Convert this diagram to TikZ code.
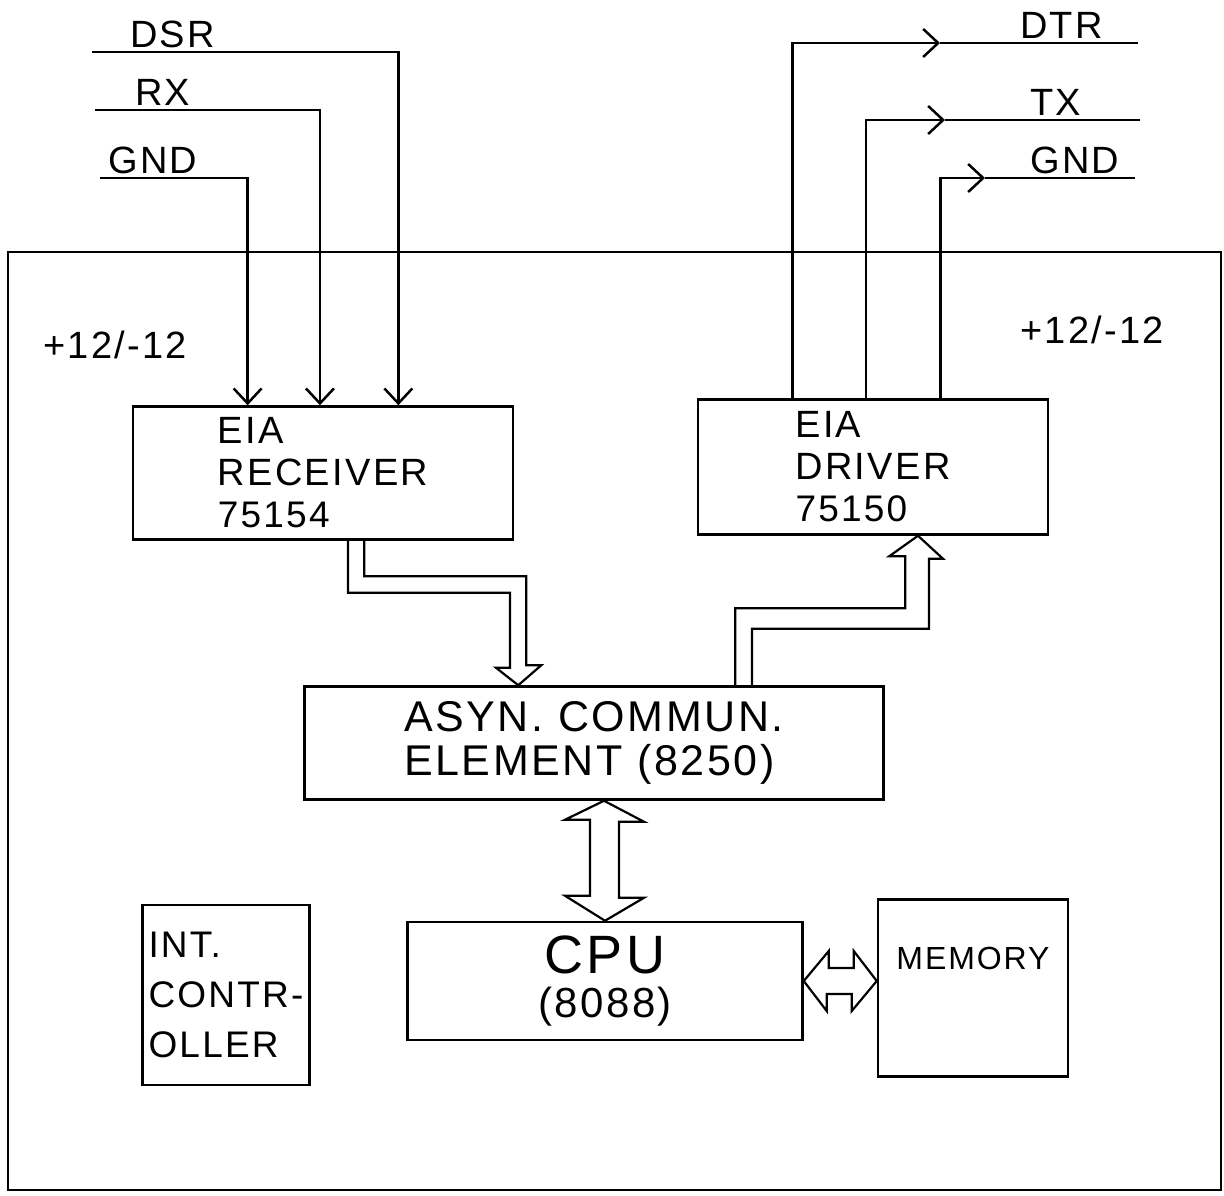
\documentclass[tikz,border=0pt]{standalone}
\usepackage{fontspec}
\newfontfamily\hand[LetterSpace=6]{Liberation Sans}
\usetikzlibrary{arrows.meta,positioning,calc}

\begin{document}
\begin{tikzpicture}[
        x=1pt, y=-1pt,
        every node/.style={font=\hand\fontsize{38}{42}\selectfont},
        box/.style={draw, line width=2.5pt, inner sep=0pt, align=left},
        wire/.style={line width=2.5pt},
        sig/.style={wire, -{Straight Barb[length=15pt, width=28pt, line width=2.5pt]}},
        bus/.style={line width=2.2pt, line join=miter},
        tag/.style={anchor=south west, inner sep=0pt}
    ]
        \useasboundingbox (0,0) rectangle (1224,1196);

        % Card outline
        \draw[wire] (8,252) rectangle (1221,1190);

        % Blocks
        \node[box, minimum width=380pt, minimum height=133pt] (recv) at (323,473)
            {EIA\\RECEIVER\\{\fontsize{37}{40}\selectfont 75154}};
        \node[box, minimum width=350pt, minimum height=135pt] (drv) at (873,467)
            {EIA\\DRIVER\\{\fontsize{37}{40}\selectfont 75150}};
        \node[box, minimum width=579pt, minimum height=113pt,
            font=\hand\fontsize{43}{44}\selectfont] (ace) at (594,743)
            {ASYN. COMMUN.\\ELEMENT (8250)};
        \node[box, align=center, minimum width=395pt, minimum height=118pt] (cpu) at (605,981)
            {{\fontsize{54}{54}\selectfont CPU}\\[2pt]{\fontsize{42}{44}\selectfont (8088)}};
        \node[box, minimum width=190pt, inner ysep=15pt, text height=55pt, text depth=92pt,
            font=\hand\fontsize{32}{36}\selectfont] (mem) at (973,988) {MEMORY};
        \node[box, minimum width=167pt, minimum height=180pt,
            font=\hand\fontsize{37}{50}\selectfont] (intc) at (226,995) {INT.\\CONTR-\\OLLER};

        % Supply labels
        \node (pwrl) at (115,345) {+12/-12};
        \node (pwrr) at (1092,330) {+12/-12};

        % Incoming lines
        \coordinate (dsrend) at (92,52);
        \coordinate (rxend) at (95,110);
        \coordinate (gndlend) at (100,178);
        \node[tag] (dsr) at (130,48) {DSR};
        \node[tag] (rx) at (135,106) {RX};
        \node[tag] (gndl) at (108,174) {GND};
        \draw[sig] (dsrend) -| ($(recv.north west)!0.697!(recv.north east)$);
        \draw[sig] (rxend) -| ($(recv.north west)!0.492!(recv.north east)$);
        \draw[sig] (gndlend) -| ($(recv.north west)!0.303!(recv.north east)$);

        % Outgoing lines
        \coordinate (dtrmark) at (940,43);
        \coordinate (txmark) at (945,120);
        \coordinate (gndrmark) at (985,178);
        \coordinate (dtrend) at (1138,43);
        \coordinate (txend) at (1140,120);
        \coordinate (gndrend) at (1135,178);
        \node[tag] (dtr) at (1020,39) {DTR};
        \node[tag] (tx) at (1030,116) {TX};
        \node[tag] (gndr) at (1030,174) {GND};
        \draw[sig] ($(drv.south west)!0.271!(drv.south east) + (0,-135)$) |- (dtrmark);
        \draw[wire] (dtrmark) -- (dtrend);
        \draw[sig] ($(drv.south west)!0.48!(drv.south east) + (0,-135)$) |- (txmark);
        \draw[wire] (txmark) -- (txend);
        \draw[sig] ($(drv.south west)!0.691!(drv.south east) + (0,-135)$) |- (gndrmark);
        \draw[wire] (gndrmark) -- (gndrend);

        % Buses
        \draw[bus] ($(recv.south)+(25,0)$) -- ++(0,52) -- ++(162,0) -- ++(0,75) -- ++(-14,0)
            -- ($(ace.north west)+(215,0)$) -- ++(23,-20) -- ++(-15,0) -- ++(0,-89)
            -- ++(-162,0) -- ++(0,-38);
        \draw[bus] ($(ace.north west)+(432,0)$) -- ++(0,-77) -- ++(170,0) -- ++(0,-52) -- ++(-16,0)
            -- ($(drv.south)+(45,0)$) -- ++(25,23) -- ++(-14,0) -- ++(0,70)
            -- ++(-177,0) -- ++(0,59);
        \draw[bus] ($(ace.south)+(10,0)$) -- ++(40,21) -- ++(-25,0) -- ++(0,76) -- ++(25,0)
            -- (cpu.north) -- ++(-40,-25) -- ++(25,0) -- ++(0,-76) -- ++(-25,0) -- cycle;
        \draw[bus] (cpu.east) -- ++(25,-30) -- ++(0,17) -- ++(25,0) -- ++(0,-17)
            -- (cpu.east -| mem.west) -- ++(-25,30) -- ++(0,-17) -- ++(-25,0) -- ++(0,17) -- cycle;
    \end{tikzpicture}
\end{document}
